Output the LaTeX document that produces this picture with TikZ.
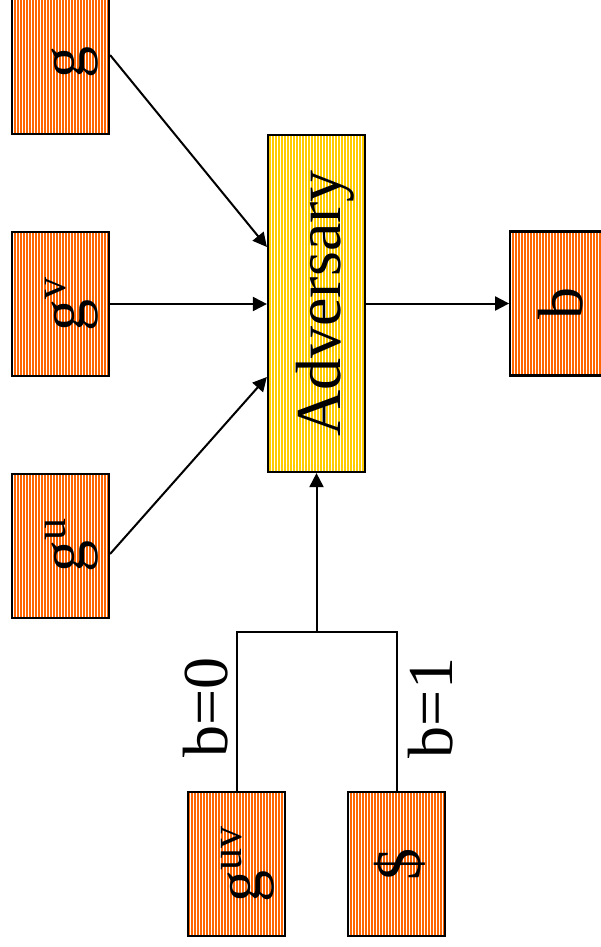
\documentclass[tikz,border=0pt]{standalone}
\usepackage{fontspec}
\setmainfont{Liberation Serif}
\usepackage{tikz}
\usetikzlibrary{arrows.meta,positioning,calc,patterns.meta}
\definecolor{stripeorange}{RGB}{255,102,0}
\definecolor{stripeyellow}{RGB}{255,204,0}
\tikzset{
  orangebox/.style={draw=black, line width=2.2pt, minimum width=97pt, minimum height=144pt, inner sep=0pt,
    pattern={Lines[angle=90,distance=3pt,line width=1.7pt]}, pattern color=stripeorange},
  advbox/.style={orangebox, minimum height=337pt, pattern color=stripeyellow},
  boxtext/.style={rotate=90, anchor=base, font=\fontsize{64}{64}\selectfont},
  link/.style={line width=2pt},
  feed/.style={-{Triangle[length=14pt,width=14pt]}, line width=2pt},
}
\newcommand{\supscr}[1]{\raisebox{19pt}{\fontsize{44}{44}\selectfont #1}}

\begin{document}
\begin{tikzpicture}[x=1pt, y=-1pt]
      \useasboundingbox (0,0) rectangle (601,947);
      % inputs on the left
      \node[orangebox] (gv) at (60.5,304) {};
      \node[orangebox, above=96pt of gv] (gtop) {};
      \node[orangebox, below=96pt of gv] (gu) {};
      % adversary and its output
      \node[advbox] (adv) at (316.5,303.5) {};
      \node[orangebox, right=143pt of adv] (bout) {};
      % challenge candidates
      \node[orangebox] (guv) at (236.5,864) {};
      \node[orangebox] (dol) at (396.5,864) {};
      \coordinate (sel) at (316.5,632);
      % texts
      \node[boxtext] at ([xshift=24pt]gtop.center) {g};
      \node[boxtext] at ([xshift=24pt]gv.center) {g\supscr{v}};
      \node[boxtext] at ([xshift=24pt]gu.center) {g\supscr{u}};
      \node[boxtext] at ([xshift=24pt]adv.center) {Adversary};
      \node[boxtext] at ([xshift=24pt]bout.center) {b};
      \node[boxtext] at ([xshift=24pt]guv.center) {g\supscr{uv}};
      \node[boxtext] at ([xshift=24pt]dol.center) {\$};
      \node[boxtext] at (227,707.5) {b=0};
      \node[boxtext] at (452,708) {b=1};
      % connectors
      \draw[feed] ([yshift=7pt]gtop.east) -- ([yshift=56.5pt]adv.west);
      \draw[feed] (gv.east) -- (gv.east -| adv.west);
      \draw[feed] ([yshift=-8pt]gu.east) -- ([yshift=-73.5pt]adv.west);
      \draw[feed] (adv.east |- bout.west) -- (bout.west);
      \draw[link] (guv.north) |- (sel) -| (dol.north);
      \draw[feed] (sel) -- (adv.south);
\end{tikzpicture}
\end{document}
